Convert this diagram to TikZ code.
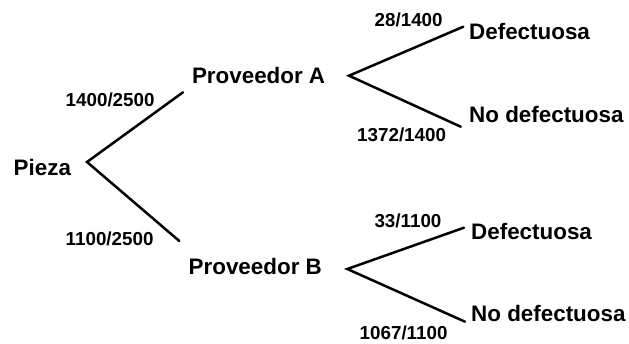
\documentclass[tikz,border=0pt]{standalone}
\usepackage{fontspec}
\setmainfont{Liberation Sans}
\begin{document}
\begin{tikzpicture}[x=1pt,y=-1pt,
  lbl/.style={anchor=base west,inner sep=0pt,font=\fontsize{22.4}{26}\selectfont\bfseries},
  frac/.style={anchor=base west,inner sep=0pt,font=\fontsize{18.8}{22}\selectfont\bfseries},
  branch/.style={line width=2.5pt,line cap=round}]
\useasboundingbox (0,0) rectangle (629,344);
% main nodes
\node[lbl] (pieza) at (13.5,175.7) {Pieza};
\node[lbl] (provA) at (191.8,83.3) {Proveedor A};
\node[lbl] (provB) at (188.5,275) {Proveedor B};
\node[lbl] (defA) at (469,39.3) {Defectuosa};
\node[lbl] (ndefA) at (469,122.7) {No defectuosa};
\node[lbl] (defB) at (471,240) {Defectuosa};
\node[lbl] (ndefB) at (471,321.7) {No defectuosa};
% branch points
\coordinate (pzR) at (87,162);
\coordinate (aL) at (183,92.3);
\coordinate (bL) at (179.3,241);
\coordinate (aR) at (349,75.7);
\coordinate (bR) at (347.3,269);
\coordinate (defAL) at (463.3,26.7);
\coordinate (ndefAL) at (460.7,126.7);
\coordinate (defBL) at (464,227.7);
\coordinate (ndefBL) at (465,321.7);
% connectors
\draw[branch] (aL) -- (pzR) -- (bL);
\draw[branch] (defAL) -- (aR) -- (ndefAL);
\draw[branch] (defBL) -- (bR) -- (ndefBL);
% probabilities
\node[frac] (pA) at (65.5,106.7) {1400/2500};
\node[frac] (pB) at (65.5,246) {1100/2500};
\node[frac] (pAd) at (374.5,26.7) {28/1400};
\node[frac] (pAn) at (357,141.7) {1372/1400};
\node[frac] (pBd) at (374.3,227.3) {33/1100};
\node[frac] (pBn) at (359.5,339.3) {1067/1100};
\end{tikzpicture}
\end{document}
